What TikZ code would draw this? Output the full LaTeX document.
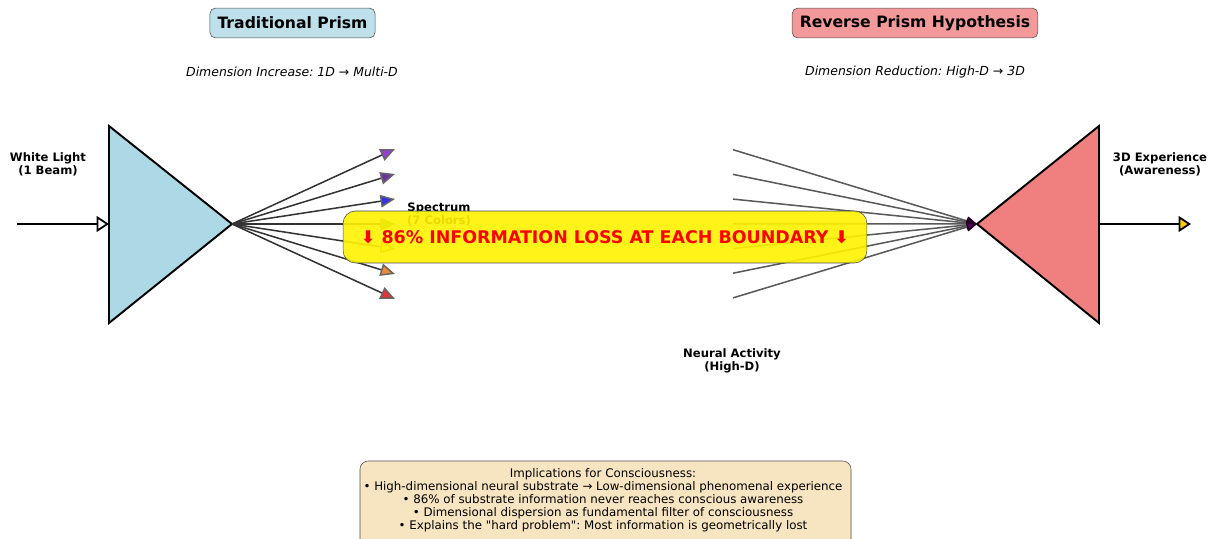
\documentclass[tikz,border=0pt]{standalone}
\usepackage{fontspec}
\setmainfont{DejaVu Sans}[Ligatures=TeXOff]
\usetikzlibrary{arrows.meta}
\definecolor{prismblue}{HTML}{ADD8E6}
\definecolor{prismred}{HTML}{F08080}
\definecolor{notewheat}{HTML}{F5DEB3}
\definecolor{beamgold}{HTML}{FFCC00}
\definecolor{cviolet}{HTML}{9B3CD2}
\definecolor{cindigo}{HTML}{6E32A0}
\definecolor{cblue}{HTML}{3232E6}
\definecolor{cgreen}{HTML}{33B533}
\definecolor{cyellow}{HTML}{FFFF33}
\definecolor{corange}{HTML}{F08C33}
\definecolor{cred}{HTML}{E63333}
\tikzset{
  title/.style={draw=black!70, rounded corners=4pt, inner xsep=5.5pt, minimum height=21.6pt,
    font=\fontsize{11.3}{13}\selectfont\bfseries},
  subtitle/.style={font=\fontsize{9}{10}\selectfont\itshape},
  lbl/.style={align=center, font=\fontsize{8.4}{9.4}\selectfont\bfseries},
  prism/.style={draw=black, line width=1.4pt, line join=miter},
  beam/.style={line width=1.8pt},
  ray/.style={draw=black!80, line width=1.1pt},
  neural/.style={draw=black!65, line width=1.1pt}
}
\frenchspacing
\begin{document}
\begin{tikzpicture}[x=0.0254cm, y=-0.0254cm]
    \useasboundingbox (0,0) rectangle (1212,539);
    %
    \node[title, fill=prismblue!80] (T1) at (292.5,23) {Traditional Prism};
    %
    \node[title, fill=prismred!80] (T2) at (915,23) {Reverse Prism Hypothesis};
    %
    \node[subtitle] (D1) at (292,72) {Dimension Increase: 1D → Multi-D};
    %
    \node[subtitle] (D2) at (915,72) {Dimension Reduction: High-D → 3D};
    %%%%%%%%%%%%%%%%%%%%%% traditional prism
    \draw[prism, fill=prismblue] (109,126) -- (109,323) -- (232,224) -- cycle;
    %
    \coordinate (W) at (17,224);
    \coordinate (L1) at (109,224);
    \coordinate (P1) at (232,224);
    %
    \draw[beam, -{Triangle[length=9pt, width=11.5pt, fill=white, line width=1.3pt]}] (W) -- (L1);
    %
    \node[lbl] (WL) at (48,164) {White Light\\(1 Beam)};
    %
    \foreach \c [count=\i] in {cviolet,cindigo,cblue,cgreen,cyellow,corange,cred}{
      \coordinate (S\i) at (395,{124+25*\i});
      \draw[ray, -{Triangle[length=10.5pt, width=9pt, fill=\c, color=black!60]}] (P1) -- (S\i);
    }
    %
    \node[lbl] (SP) at (439,214) {Spectrum\\(7 Colors)};
    %%%%%%%%%%%%%%%%%%%%%% reverse prism
    \draw[prism, fill=prismred] (977,224) -- (1099,126) -- (1099,323) -- cycle;
    %
    \coordinate (P2) at (977,224);
    \coordinate (R1) at (1099,224);
    \coordinate (E) at (1191,224);
    %
    \foreach \i in {1,...,7}{
      \coordinate (N\i) at (733,{125+24.7*\i});
      \draw[neural, -{Triangle[length=7.5pt, width=6.5pt, fill=violet!75!black, color=violet!30!black]}] (N\i) -- (P2);
    }
    %
    \node[lbl] (NA) at (732,361) {Neural Activity\\(High-D)};
    %
    \draw[beam, -{Triangle[length=9pt, width=11.5pt, fill=beamgold, line width=1.3pt]}] (R1) -- (E);
    %
    \node[lbl] (EX) at (1160,164) {3D Experience\\(Awareness)};
    %%%%%%%%%%%%%%%%%%%%%% loss banner
    \node[draw=black!70, fill=yellow, fill opacity=0.9, text opacity=1, rounded corners=9pt,
      minimum width=13.31cm, minimum height=1.32cm, text=red,
      font=\fontsize{12.6}{15}\selectfont\bfseries] (LOSS) at (605,237)
      {⬇ 86\% INFORMATION LOSS AT EACH BOUNDARY ⬇};
    %%%%%%%%%%%%%%%%%%%%%% implications
    \draw[draw=black!70, fill=notewheat!80, rounded corners=6pt] (360,461) rectangle (851,552);
    %
    \node[align=center, font=\fontsize{8.55}{9.4}\selectfont] (IM) at (603,500.5)
      {Implications for Consciousness:\\
       • High-dimensional neural substrate → Low-dimensional phenomenal experience\\
       • 86\% of substrate information never reaches conscious awareness\\
       • Dimensional dispersion as fundamental filter of consciousness\\
       • Explains the "hard problem": Most information is geometrically lost};
  \end{tikzpicture}
\end{document}
